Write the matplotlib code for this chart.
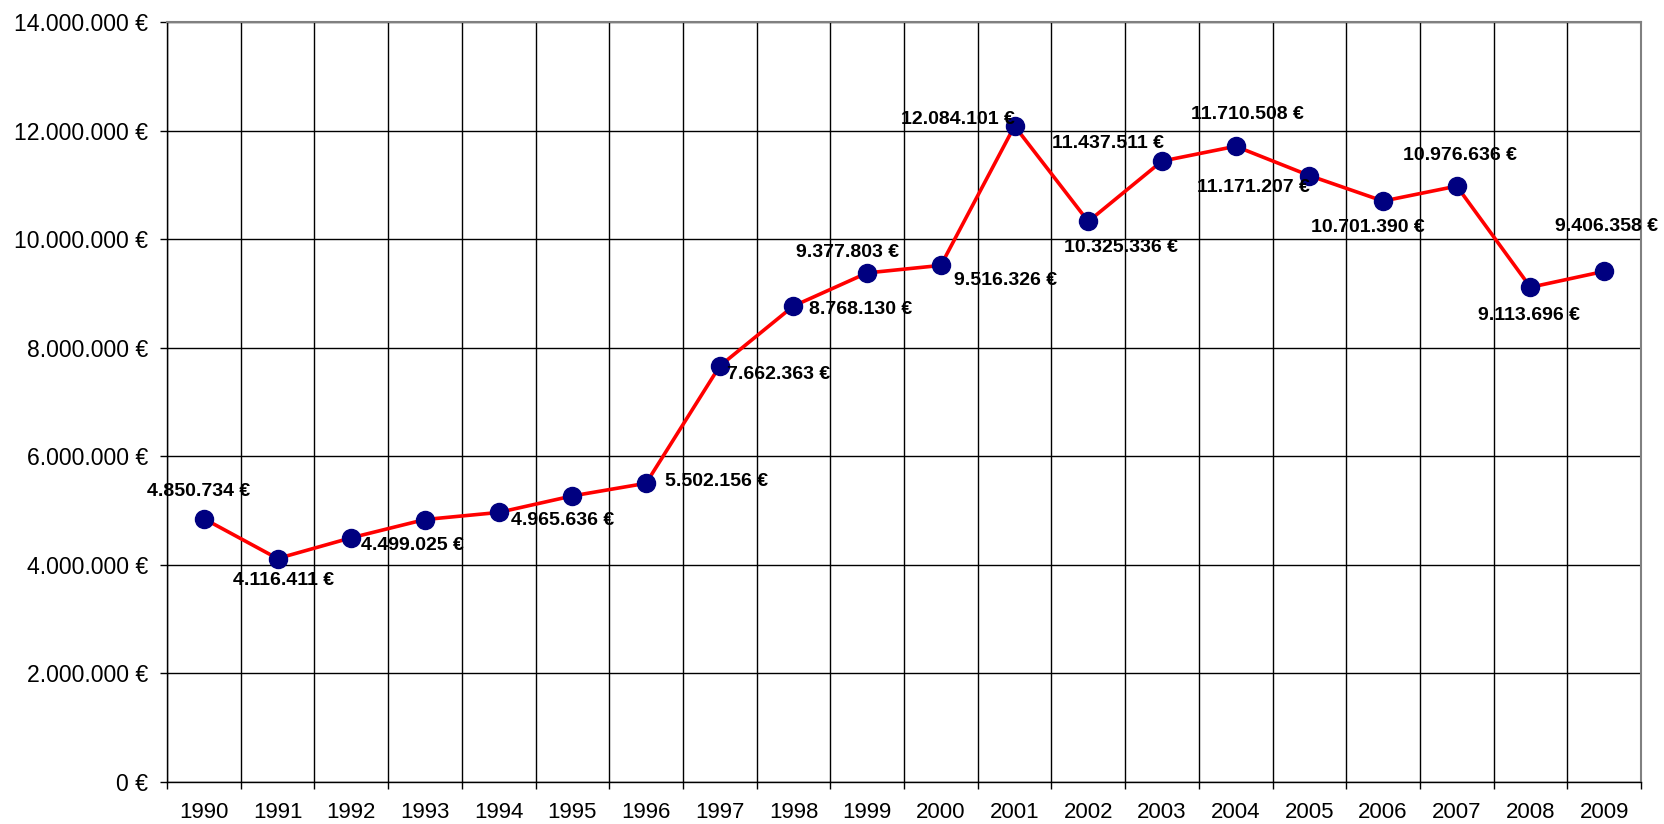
import matplotlib
matplotlib.use("Agg")
import matplotlib.pyplot as plt
from matplotlib.ticker import FuncFormatter, MultipleLocator

plt.rcParams["font.family"] = ["Liberation Sans", "DejaVu Sans"]

# Data
years = [str(y) for y in range(1990, 2010)]
values = [4850734, 4116411, 4499025, 4835000, 4965636, 5270000, 5502156,
          7662363, 8768130, 9377803, 9516326, 12084101, 10325336, 11437511,
          11710508, 11171207, 10701390, 10976636, 9113696, 9406358]
# which points carry a value label (1993 and 1995 have none)
labelled = [True, True, True, False, True, False, True, True, True, True,
            True, True, True, True, True, True, True, True, True, True]

# label placement: (dx px, dy px, horizontal alignment)
label_pos = [(-5, 27, "center"), (6, -22, "center"), (10, -8, "left"), None,
             (12, -8, "left"), None, (19, 2, "left"), (7, -8, "left"),
             (16, -3, "left"), (-20, 20, "center"), (13, -15, "left"),
             (0, 7, "right"), (33, -26, "center"), (2, 18, "right"),
             (12, 32, "center"), (1, -12, "right"), (-15, -26, "center"),
             (3, 31, "center"), (-1, -28, "center"), (2, 45, "center")]


def euro(v):
    return f"{int(round(v)):,}".replace(",", ".") + " €"


W, H = 1664, 824
fig = plt.figure(figsize=(W / 100, H / 100), dpi=100)
ax = fig.add_axes([167 / W, (H - 782) / H, (1641 - 167) / W, (782 - 22) / H])

x = list(range(len(years)))
ax.plot(x, values, color="red", lw=2.6, zorder=3,
        marker="o", markersize=13, markerfacecolor="#000080",
        markeredgecolor="#000080")

for i, v in enumerate(values):
    if not labelled[i]:
        continue
    dx, dy, ha = label_pos[i]
    ax.annotate(euro(v), (i, v), xytext=(dx, dy), textcoords="offset pixels",
                ha=ha, va="center", fontsize=14, fontweight="bold",
                color="black", zorder=4)

ax.set_xlim(-0.5, len(years) - 0.5)
ax.set_ylim(0, 14000000)
ax.yaxis.set_major_locator(MultipleLocator(2000000))
ax.yaxis.set_major_formatter(FuncFormatter(lambda v, p: euro(v)))

ax.set_xticks(x)
ax.set_xticklabels(years)
ax.set_xticks([i - 0.5 for i in range(len(years) + 1)], minor=True)
ax.tick_params(axis="x", which="major", length=0, pad=14.5, labelsize=16)
ax.tick_params(axis="x", which="minor", length=5, width=1, color="black")
ax.tick_params(axis="y", length=5, width=1, pad=8.5, labelsize=16.6)

ax.grid(True, axis="y", which="major", color="black", lw=1)
ax.grid(True, axis="x", which="minor", color="black", lw=1)
ax.set_axisbelow(True)

for s in ["top", "right"]:
    ax.spines[s].set_color("#808080")
    ax.spines[s].set_linewidth(1.5)
for s in ["left", "bottom"]:
    ax.spines[s].set_color("black")
    ax.spines[s].set_linewidth(1)

fig.savefig("out.png", dpi=100)
